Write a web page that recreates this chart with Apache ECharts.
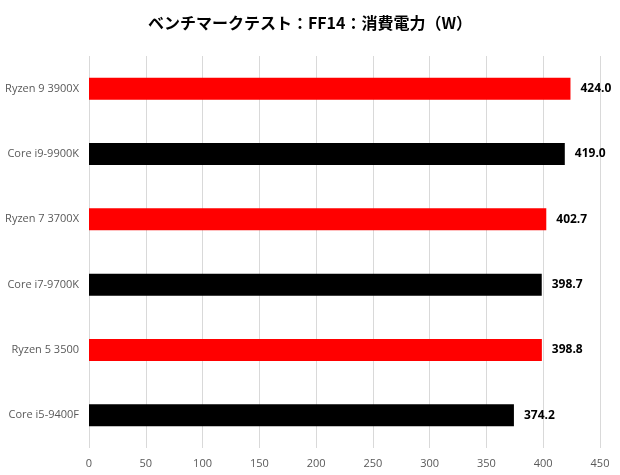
<!DOCTYPE html>
<html><head><meta charset="utf-8">
<script src="https://cdn.jsdelivr.net/npm/echarts@6/dist/echarts.min.js"></script>
<style>html,body{margin:0;padding:0;background:#fff}#c{width:620px;height:475px}</style>
</head><body><div id="c"></div>
<script>
const categories = ["Ryzen 9 3900X","Core i9-9900K","Ryzen 7 3700X","Core i7-9700K","Ryzen 5 3500","Core i5-9400F"];
const values = [424.0, 419.0, 402.7, 398.7, 398.8, 374.2];
const barColors = ["#FF0000","#000000","#FF0000","#000000","#FF0000","#000000"];
const titleText = "ベンチマークテスト：FF14：消費電力（W）";
const xMin = 0, xMax = 450, xStep = 50;

const chart = echarts.init(document.getElementById('c'), null, {renderer:'canvas'});
chart.setOption({
  animation:false,
  backgroundColor:'#fff',
  title:{text:titleText,left:'center',top:10,textStyle:{fontFamily:'"Noto Sans CJK JP"',fontSize:16,fontWeight:'bold',color:'#000'}},
  grid:{left:89,right:20,top:56,bottom:27,containLabel:false},
  xAxis:{type:'value',min:xMin,max:xMax,interval:xStep,
    axisLine:{show:false},axisTick:{show:false},
    splitLine:{lineStyle:{color:'#d9d9d9',width:1}},
    axisLabel:{color:'#595959',fontSize:11,fontFamily:'"Open Sans"',margin:10}},
  yAxis:{type:'category',data:categories,inverse:true,
    axisLine:{show:false},axisTick:{show:false},
    axisLabel:{color:'#595959',fontSize:11,fontFamily:'"Open Sans"',margin:10}},
  series:[{type:'bar',barWidth:22,
    data:values.map((v,i)=>({value:v,itemStyle:{color:barColors[i]}})),
    label:{show:true,position:'right',distance:10,formatter:p=>p.value.toFixed(1),
      color:'#000',fontWeight:'bold',fontSize:12,fontFamily:'"Open Sans"'}}]
});
</script></body></html>
